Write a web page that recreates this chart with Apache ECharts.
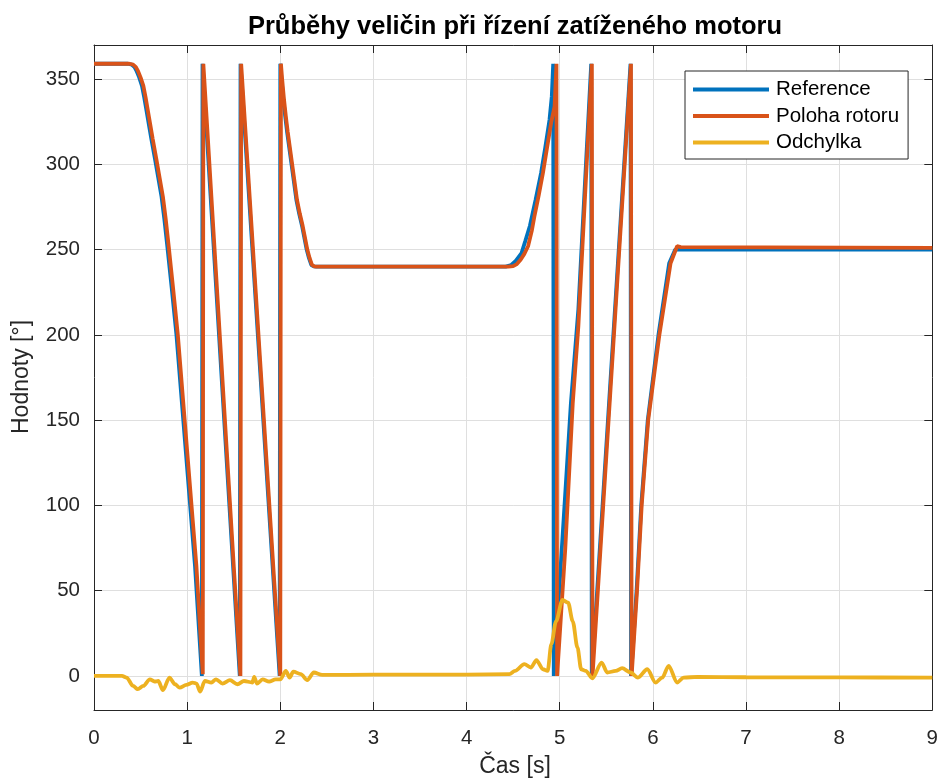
<!DOCTYPE html>
<html>
<head>
<meta charset="utf-8">
<script src="https://cdn.jsdelivr.net/npm/echarts@6/dist/echarts.min.js"></script>
<style>
html,body{margin:0;padding:0;background:#fff;}
#main{width:941px;height:781px;}
</style>
</head>
<body>
<div id="main"></div>
<script>
// ---- data ----
const xTicks = [0, 1, 2, 3, 4, 5, 6, 7, 8, 9];
const yTicks = [0, 50, 100, 150, 200, 250, 300, 350];
const seriesNames = ['Reference', 'Poloha rotoru', 'Odchylka'];

// Reference (time [s], value [deg])
const refT = [0, 0.315, 0.365, 0.405, 0.435, 0.455, 0.485, 0.515, 0.54, 0.565, 0.59, 0.615, 0.655, 0.69, 0.725, 0.755, 0.785, 0.835, 0.885, 0.935, 0.985, 1.035, 1.085, 1.158, 1.165, 1.565, 1.573, 1.993, 2.0, 2.013, 2.033, 2.053, 2.073, 2.098, 2.123, 2.148, 2.173, 2.203, 2.233, 2.258, 2.283, 2.308, 2.333, 2.36, 2.385, 4.42, 4.48, 4.53, 4.59, 4.63, 4.68, 4.74, 4.8, 4.845, 4.89, 4.915, 4.93, 4.936, 5.0, 5.12, 5.2, 5.338, 5.344, 5.76, 5.766, 5.825, 5.875, 5.945, 6.06, 6.175, 6.24, 9];
const refV = [359, 359, 359, 358.5, 357, 355, 351, 346, 339, 331, 323, 315, 303, 292, 281, 268, 253, 227, 200, 166, 132, 98, 64, 0, 359, 0, 359, 0, 359, 350, 338, 328, 319, 309, 299, 289, 279, 271, 264, 257, 250, 245, 241, 240.2, 240, 240, 241, 243.5, 248, 255, 264, 279, 295, 310, 326, 340, 359, 0, 55, 160, 215, 359, 0, 359, 0, 50, 100, 150, 200, 242, 250, 250];

// Poloha rotoru
const posT = [0, 0.33, 0.38, 0.42, 0.45, 0.47, 0.5, 0.53, 0.555, 0.58, 0.605, 0.63, 0.67, 0.705, 0.74, 0.77, 0.8, 0.85, 0.9, 0.95, 1.0, 1.05, 1.1, 1.168, 1.174, 1.572, 1.58, 2.0, 2.007, 2.02, 2.04, 2.06, 2.08, 2.105, 2.13, 2.155, 2.18, 2.21, 2.24, 2.265, 2.29, 2.315, 2.34, 2.365, 2.39, 4.45, 4.5, 4.54, 4.58, 4.62, 4.66, 4.7, 4.73, 4.775, 4.82, 4.865, 4.91, 4.945, 4.965, 4.972, 5.06, 5.14, 5.2, 5.345, 5.352, 5.765, 5.772, 5.83, 5.88, 5.95, 6.07, 6.19, 6.26, 6.3, 9];
const posV = [359, 359, 359, 358.5, 357, 355, 351, 346, 339, 331, 323, 315, 303, 292, 281, 268, 253, 227, 200, 166, 132, 98, 64, 1, 359, 0, 359, 0, 359, 350, 338, 328, 319, 309, 299, 289, 279, 271, 264, 257, 250, 245, 241, 240.2, 240, 240, 240.3, 241.5, 244, 247.5, 252, 261, 270, 282, 295, 310, 325, 334, 359, 0, 75, 160, 205, 359, 0, 359, 0, 50, 100, 150, 200, 242, 252, 251.5, 251];

// Odchylka
const errT = [0, 0.3, 0.35, 0.42, 0.47, 0.53, 0.6, 0.65, 0.69, 0.74, 0.81, 0.87, 0.92, 0.99, 1.06, 1.1, 1.14, 1.19, 1.26, 1.31, 1.38, 1.46, 1.54, 1.61, 1.7, 1.72, 1.75, 1.81, 1.88, 1.95, 2.0, 2.06, 2.1, 2.14, 2.22, 2.29, 2.36, 2.45, 3.0, 3.5, 4.0, 4.46, 4.52, 4.62, 4.69, 4.75, 4.82, 4.87, 4.91, 4.96, 5.03, 5.09, 5.14, 5.19, 5.23, 5.28, 5.35, 5.45, 5.51, 5.6, 5.67, 5.76, 5.84, 5.94, 6.03, 6.1, 6.17, 6.26, 6.33, 6.48, 7, 8, 9];
const errV = [0, 0, -1, -5.9, -7.8, -5.9, -2, -3.3, -3, -8.4, -1, -4.9, -6.9, -5.3, -3.9, -4.5, -9.2, -3, -3.9, -2, -4.5, -2.5, -4.9, -3, -3.9, -0.6, -4.5, -2, -3.3, -2, -2, 2.9, -1, 2.5, 1, -2.5, 2, 0.6, 0.7, 0.8, 0.8, 1, 2.9, 6.9, 4.9, 9.2, 3.9, 2.9, 18.6, 32, 44.5, 43, 32, 16.7, 3.9, 2.9, -1.4, 7.8, 2, 2.9, 4.5, 2, -1, 3.9, -3.9, -1, 5.9, -3.9, -1, -0.6, -0.8, -0.9, -1];

// ---- chart ----
const FONT = '"Liberation Sans", Arial, Helvetica, sans-serif';
const AX = '#262626';
const LW = 3.8;
const zip = (t, v) => t.map((x, i) => [x, v[i]]);

const chart = echarts.init(document.getElementById('main'), null, {renderer: 'canvas'});

const baseX = {
  type: 'value', min: 0, max: 9, interval: 1,
  axisLine: {show: true, onZero: false, lineStyle: {color: AX, width: 1}},
  axisTick: {show: true, inside: true, length: 8, lineStyle: {color: AX, width: 1}},
};
const baseY = {
  type: 'value', min: -20, max: 370,
  axisLine: {show: true, onZero: false, lineStyle: {color: AX, width: 1}},
  axisTick: {show: true, inside: true, length: 8, customValues: yTicks, lineStyle: {color: AX, width: 1}},
};

chart.setOption({
  animation: false,
  backgroundColor: '#ffffff',
  grid: {left: 94, right: 5, top: 45, bottom: 71, containLabel: false},
  xAxis: [
    Object.assign({}, baseX, {
      position: 'bottom',
      axisLabel: {color: AX, fontSize: 20.5, fontFamily: FONT, margin: 18, customValues: xTicks},
      splitLine: {show: true, lineStyle: {color: '#dfdfdf', width: 1}}
    }),
    Object.assign({}, baseX, {
      position: 'top',
      axisLabel: {show: false},
      splitLine: {show: false}
    })
  ],
  yAxis: [
    Object.assign({}, baseY, {
      position: 'left',
      axisLabel: {color: AX, fontSize: 20.5, fontFamily: FONT, margin: 14, customValues: yTicks},
      splitLine: {show: true, lineStyle: {color: '#dfdfdf', width: 1}}
    }),
    Object.assign({}, baseY, {
      position: 'right',
      axisLabel: {show: false},
      splitLine: {show: false}
    })
  ],
  legend: {
    orient: 'vertical', left: 685, top: 71,
    padding: [8, 9, 6, 8], itemGap: 5.5, itemWidth: 76, itemHeight: 4,
    icon: 'rect',
    borderColor: AX, borderWidth: 1, backgroundColor: '#ffffff',
    textStyle: {fontSize: 20.5, fontFamily: FONT, color: '#000', lineHeight: 18, padding: [0, 0, 0, 2]},
    data: seriesNames
  },
  series: [
    {name: seriesNames[0], type: 'line', data: zip(refT, refV), showSymbol: false, symbol: 'none',
     lineStyle: {color: '#0072BD', width: LW}, itemStyle: {color: '#0072BD'}, z: 2},
    {name: seriesNames[1], type: 'line', data: zip(posT, posV), showSymbol: false, symbol: 'none',
     lineStyle: {color: '#D95319', width: LW}, itemStyle: {color: '#D95319'}, z: 3},
    {name: seriesNames[2], type: 'line', data: zip(errT, errV), showSymbol: false, symbol: 'none',
     smooth: 0.3, smoothMonotone: 'x',
     lineStyle: {color: '#EDB120', width: LW}, itemStyle: {color: '#EDB120'}, z: 4}
  ],
  graphic: [
    {type: 'text', x: 515, y: 27, style: {text: 'Průběhy veličin při řízení zatíženého motoru',
      font: 'bold 25.5px ' + FONT, fill: '#000', align: 'center', verticalAlign: 'middle'}},
    {type: 'text', x: 515, y: 767, style: {text: 'Čas [s]',
      font: '23px ' + FONT, fill: AX, align: 'center', verticalAlign: 'middle'}},
    {type: 'text', x: 22, y: 377, rotation: Math.PI / 2, style: {text: 'Hodnoty [°]',
      font: '23px ' + FONT, fill: AX, align: 'center', verticalAlign: 'middle'}}
  ]
});
</script>
</body>
</html>
